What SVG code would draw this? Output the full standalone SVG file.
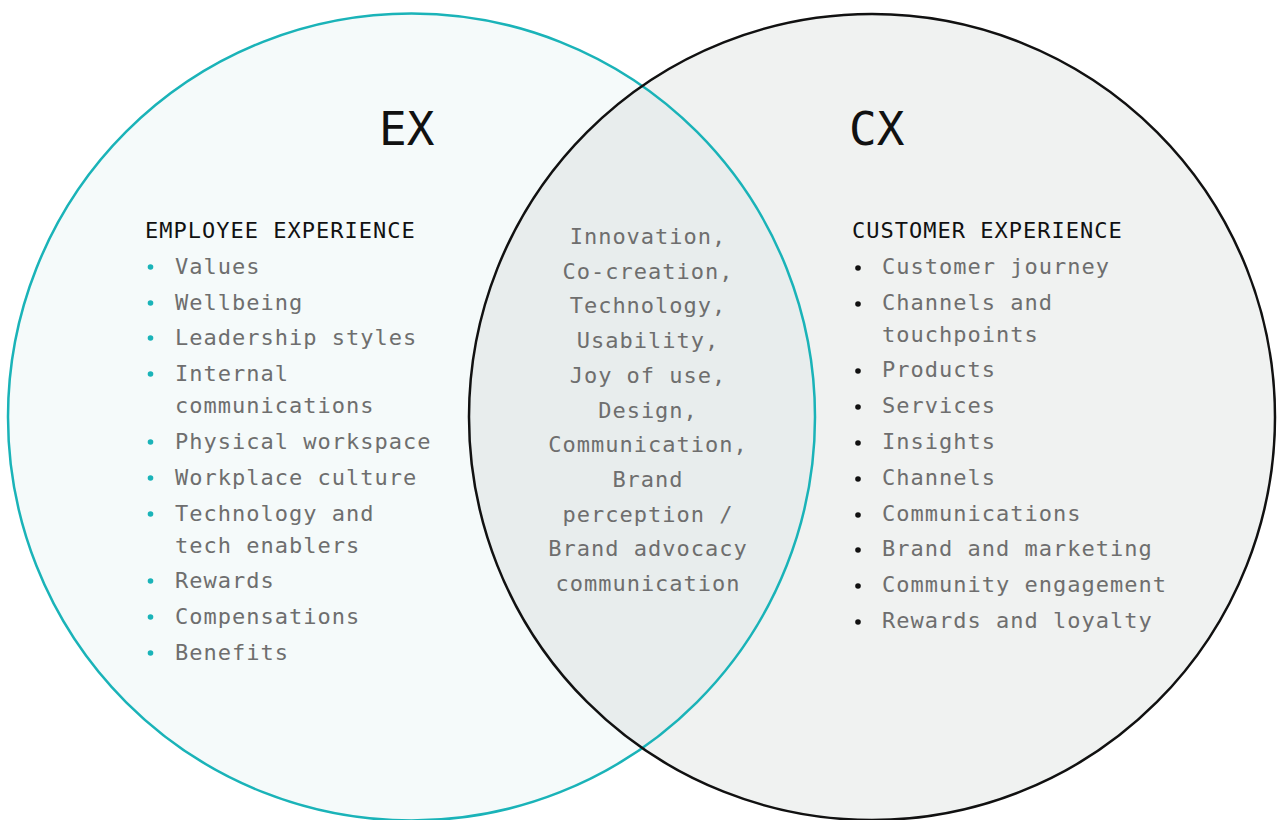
<svg xmlns="http://www.w3.org/2000/svg" width="1277" height="820" viewBox="0 0 1277 820">
<style>
text{font-family:"DejaVu Sans Mono","Liberation Mono",monospace;font-size:22px;letter-spacing:1px}
.item{fill:#6e6e6e}
.head{fill:#111}
.big{font-size:46px;fill:#111;letter-spacing:0px}
.mid{fill:#6e6e6e;text-anchor:middle}
.dotL{fill:#1ab3b8}
.dotR{fill:#111}
</style>
<rect width="1277" height="820" fill="#ffffff"/>
<g id="circles">
<circle cx="411.5" cy="417" r="403.5" fill="#f5fafa"/>
<circle cx="872" cy="417" r="403" fill="#f0f2f1"/>
<clipPath id="cl"><circle cx="411.5" cy="417" r="403.5"/></clipPath>
<circle cx="872" cy="417" r="403" fill="#e8eded" clip-path="url(#cl)"/>
<circle cx="411.5" cy="417" r="403.5" fill="none" stroke="#1ab3b8" stroke-width="2.5"/>
<circle cx="872" cy="417" r="403" fill="none" stroke="#111" stroke-width="2.5"/>
</g>
<g id="ex">
<text class="big" x="379" y="145">EX</text>
<text class="head" x="145" y="238">EMPLOYEE EXPERIENCE</text>
<g class="dotL">
<circle cx="150.5" cy="267" r="2.8"/><circle cx="150.5" cy="303" r="2.8"/><circle cx="150.5" cy="338" r="2.8"/><circle cx="150.5" cy="374" r="2.8"/><circle cx="150.5" cy="442" r="2.8"/><circle cx="150.5" cy="478" r="2.8"/><circle cx="150.5" cy="514" r="2.8"/><circle cx="150.5" cy="581" r="2.8"/><circle cx="150.5" cy="617" r="2.8"/><circle cx="150.5" cy="653" r="2.8"/>
</g>
<text class="item" x="175" y="274">Values</text>
<text class="item" x="175" y="310">Wellbeing</text>
<text class="item" x="175" y="345">Leadership styles</text>
<text class="item" x="175" y="381">Internal</text>
<text class="item" x="175" y="413">communications</text>
<text class="item" x="175" y="449">Physical workspace</text>
<text class="item" x="175" y="485">Workplace culture</text>
<text class="item" x="175" y="521">Technology and</text>
<text class="item" x="175" y="553">tech enablers</text>
<text class="item" x="175" y="588">Rewards</text>
<text class="item" x="175" y="624">Compensations</text>
<text class="item" x="175" y="660">Benefits</text>
</g>
<g id="overlap">
<text class="mid" x="648" y="244">Innovation,</text>
<text class="mid" x="648" y="279">Co-creation,</text>
<text class="mid" x="648" y="313">Technology,</text>
<text class="mid" x="648" y="348">Usability,</text>
<text class="mid" x="648" y="383">Joy of use,</text>
<text class="mid" x="648" y="418">Design,</text>
<text class="mid" x="648" y="452">Communication,</text>
<text class="mid" x="648" y="487">Brand</text>
<text class="mid" x="648" y="522">perception /</text>
<text class="mid" x="648" y="556">Brand advocacy</text>
<text class="mid" x="648" y="591">communication</text>
</g>
<g id="cx">
<text class="big" x="849" y="145">CX</text>
<text class="head" x="852" y="238">CUSTOMER EXPERIENCE</text>
<g class="dotR">
<circle cx="858" cy="268" r="2.8"/><circle cx="858" cy="304" r="2.8"/><circle cx="858" cy="371" r="2.8"/><circle cx="858" cy="407" r="2.8"/><circle cx="858" cy="443" r="2.8"/><circle cx="858" cy="479" r="2.8"/><circle cx="858" cy="515" r="2.8"/><circle cx="858" cy="550" r="2.8"/><circle cx="858" cy="586" r="2.8"/><circle cx="858" cy="622" r="2.8"/>
</g>
<text class="item" x="882" y="274">Customer journey</text>
<text class="item" x="882" y="310">Channels and</text>
<text class="item" x="882" y="342">touchpoints</text>
<text class="item" x="882" y="377">Products</text>
<text class="item" x="882" y="413">Services</text>
<text class="item" x="882" y="449">Insights</text>
<text class="item" x="882" y="485">Channels</text>
<text class="item" x="882" y="521">Communications</text>
<text class="item" x="882" y="556">Brand and marketing</text>
<text class="item" x="882" y="592">Community engagement</text>
<text class="item" x="882" y="628">Rewards and loyalty</text>
</g>
</svg>
